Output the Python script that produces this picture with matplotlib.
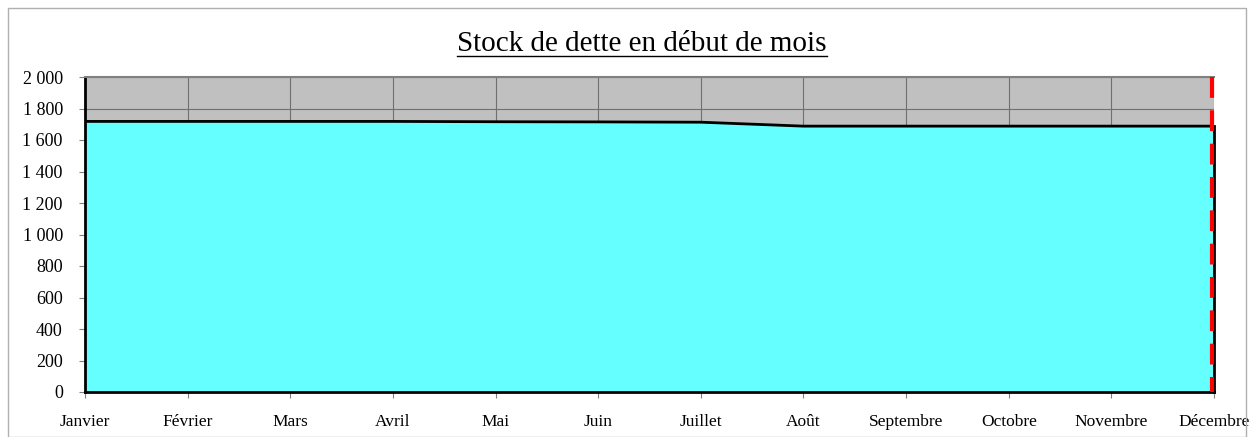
import matplotlib.pyplot as plt
from matplotlib.patches import Rectangle

months = ["Janvier", "Février", "Mars", "Avril", "Mai", "Juin", "Juillet",
          "Août", "Septembre", "Octobre", "Novembre", "Décembre"]
stock = [1718, 1718, 1718, 1718, 1716, 1715, 1713, 1688, 1688, 1688, 1688, 1688]
yticks = [0, 200, 400, 600, 800, 1000, 1200, 1400, 1600, 1800, 2000]
ylabels = ["0", "200", "400", "600", "800", "1 000", "1 200", "1 400", "1 600", "1 800", "2 000"]

plt.rcParams['font.family'] = ['Liberation Serif', 'DejaVu Serif']

fig = plt.figure(figsize=(12.54, 4.37), dpi=100)
ax = fig.add_axes([85/1254, 1-392/437, (1214-85)/1254, (392-77)/437])

x = list(range(len(months)))
ax.set_facecolor('#c0c0c0')
ax.fill_between(x, stock, 0, color='#66ffff', zorder=2)
ax.plot(x, stock, color='black', lw=2, zorder=3)
ax.plot([x[-1], x[-1]], [0, stock[-1]], color='black', lw=2, zorder=3, clip_on=False)
ax.plot([x[-1] - 0.02, x[-1] - 0.02], [2000, 0], color='red', lw=3, dashes=(5, 3),
        zorder=4, clip_on=False)

ax.set_xlim(0, len(months)-1)
ax.set_ylim(0, 2000)
ax.set_xticks(x)
ax.set_xticklabels(months, fontsize=12.5)
ax.set_yticks(yticks)
ax.set_yticklabels(ylabels, fontsize=13)
ax.tick_params(axis='x', length=4, pad=12, color='#808080')
ax.tick_params(axis='y', length=4, pad=12, color='#808080')
ax.grid(True, color='#707070', lw=0.8, zorder=1)
ax.set_axisbelow(True)
ax.spines['top'].set_color('#808080')
ax.spines['top'].set_linewidth(1.5)
ax.spines['right'].set_visible(False)
ax.spines['left'].set_color('black')
ax.spines['left'].set_linewidth(2)
ax.spines['bottom'].set_color('black')
ax.spines['bottom'].set_linewidth(2)

title = fig.text(642/1254, 1-44/437, "Stock de dette en début de mois", ha='center', va='center',
                 fontsize=21)
fig.canvas.draw()
bb = title.get_window_extent().transformed(fig.transFigure.inverted())
fig.add_artist(plt.Line2D([bb.x0, bb.x1], [1-56/437, 1-56/437], color='black', lw=1))

fig.add_artist(Rectangle((8/1254, 0), 1-16/1254, 1-8/437, fill=False, ec='#b0b0b0', lw=1,
                         transform=fig.transFigure))

fig.savefig('out.png', dpi=100)
